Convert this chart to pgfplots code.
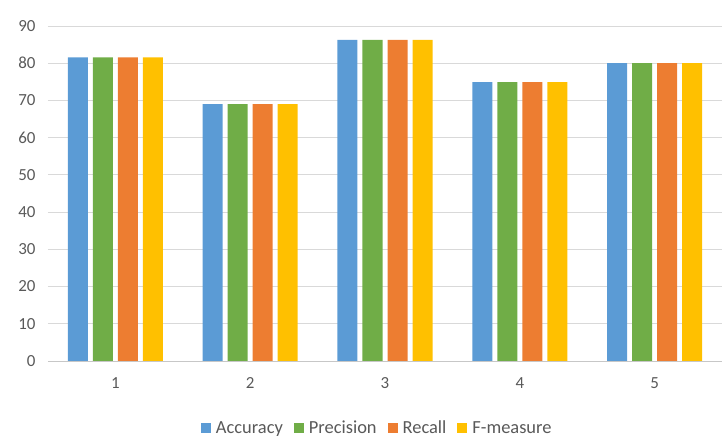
\documentclass[border=0pt]{standalone}
\usepackage{pgfplots}
\pgfplotsset{compat=1.18}
\usepackage{fontspec}
\setmainfont{Carlito}
\definecolor{cblue}{HTML}{5B9BD5}
\definecolor{cgreen}{HTML}{70AD47}
\definecolor{corange}{HTML}{ED7D31}
\definecolor{cgold}{HTML}{FFC000}
\definecolor{txt}{HTML}{595959}
\definecolor{gridc}{HTML}{D9D9D9}
\begin{document}
\begin{tikzpicture}
\begin{axis}[
  scale only axis,
  width=674bp, height=335bp,
  ymin=0, ymax=90, ytick={0,10,...,90},
  xmin=-0.5, xmax=4.5,
  xtick={0,1,2,3,4}, xticklabels={1,2,3,4,5},
  ybar=5bp, bar width=20bp,
  axis line style={draw=none},
  ymajorgrids, xmajorgrids=false,
  grid style={draw=gridc, line width=0.8pt},
  major tick length=0pt,
  tick label style={font=\fontsize{17}{19}\selectfont, text=txt},
  /pgf/number format/assume math mode=true,
  yticklabel style={xshift=-9bp},
  xticklabel style={yshift=-13bp},
  legend style={at={(0.487,-0.2)}, anchor=center, draw=none,
    font=\fontsize{18.5}{20}\selectfont, text=txt, legend columns=-1,
    nodes={inner xsep=0bp},
    /tikz/every even column/.append style={column sep=11bp},
    /tikz/every odd column/.append style={column sep=5bp}},
  legend image code/.code={\fill (0bp,-5bp) rectangle (10bp,5bp);},
]
\addplot[fill=cblue, draw=none] coordinates {(0,81.6) (1,69.0) (2,86.3) (3,74.9) (4,80.0)};
\addplot[fill=cgreen, draw=none] coordinates {(0,81.6) (1,69.0) (2,86.3) (3,74.9) (4,80.0)};
\addplot[fill=corange, draw=none] coordinates {(0,81.6) (1,69.0) (2,86.3) (3,74.9) (4,80.0)};
\addplot[fill=cgold, draw=none] coordinates {(0,81.6) (1,69.0) (2,86.3) (3,74.9) (4,80.0)};
\legend{Accuracy, Precision, Recall, F-measure}
\draw[draw=gridc!80!gray, line width=0.8pt] (axis cs:-0.5,0) -- (axis cs:4.5,0);
\end{axis}
\pgfresetboundingbox
\path[use as bounding box] (-48bp,-76bp) rectangle (676bp,361bp);
\end{tikzpicture}
\end{document}
